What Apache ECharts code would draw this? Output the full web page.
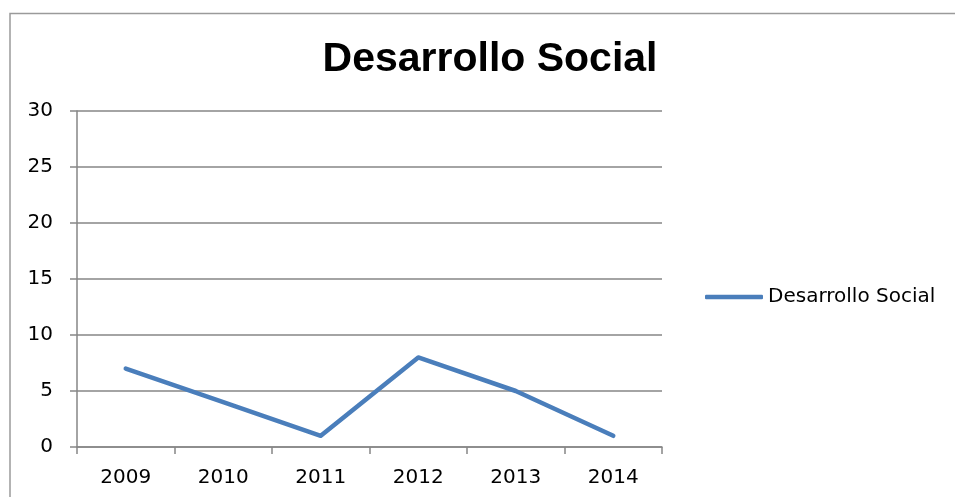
<!DOCTYPE html>
<html>
<head>
<meta charset="utf-8">
<script src="https://cdn.jsdelivr.net/npm/echarts@6/dist/echarts.min.js"></script>
<style>
html,body{margin:0;padding:0;background:#fff;}
#main{width:955px;height:497px;}
</style>
</head>
<body>
<div id="main"></div>
<script>
var titleText = 'Desarrollo Social';
var seriesName = 'Desarrollo Social';
var categories = ['2009', '2010', '2011', '2012', '2013', '2014'];
var values = [7, 4, 1, 8, 5, 1];
var yMin = 0, yMax = 30, yInterval = 5;

var chart = echarts.init(document.getElementById('main'));
var axisGrey = '#868686';
var labelFont = { color: '#000', fontFamily: 'DejaVu Sans', fontSize: 20 };

chart.setOption({
  animation: false,
  backgroundColor: '#fff',
  graphic: [{
    type: 'rect',
    shape: { x: 10, y: 13.5, width: 960, height: 500 },
    style: { fill: 'none', stroke: '#9a9a9a', lineWidth: 1.5 },
    silent: true
  }],
  title: {
    text: titleText,
    left: 485, textAlign: 'center',
    top: 34,
    textStyle: { fontFamily: 'Liberation Sans', fontWeight: 'bold', fontSize: 41, color: '#000' }
  },
  legend: {
    left: 700, top: 282,
    itemWidth: 58, itemHeight: 4.5,
    icon: 'roundRect',
    itemGap: 5,
    textStyle: labelFont,
    data: [{ name: seriesName, icon: 'roundRect', itemStyle: { color: '#4A7EBB' } }]
  },
  grid: { left: 77, right: 293, top: 111, bottom: 50, containLabel: false },
  xAxis: {
    type: 'category',
    data: categories,
    boundaryGap: true,
    axisLine: { lineStyle: { color: axisGrey, width: 1.5 } },
    axisTick: { show: true, length: 7, lineStyle: { color: axisGrey, width: 1.5 } },
    axisLabel: Object.assign({ margin: 21 }, labelFont),
    splitLine: { show: false }
  },
  yAxis: {
    type: 'value',
    min: yMin, max: yMax, interval: yInterval,
    axisLine: { show: true, lineStyle: { color: axisGrey, width: 1.5 } },
    axisTick: { show: true, length: 7, lineStyle: { color: axisGrey, width: 1.5 } },
    axisLabel: Object.assign({ margin: 24 }, labelFont),
    splitLine: { show: true, lineStyle: { color: axisGrey, width: 1.5 } }
  },
  series: [{
    name: seriesName,
    type: 'line',
    data: values,
    symbol: 'none',
    itemStyle: { color: '#4A7EBB' },
    lineStyle: { color: '#4A7EBB', width: 4.5, cap: 'round', join: 'round' }
  }]
});
</script>
</body>
</html>
